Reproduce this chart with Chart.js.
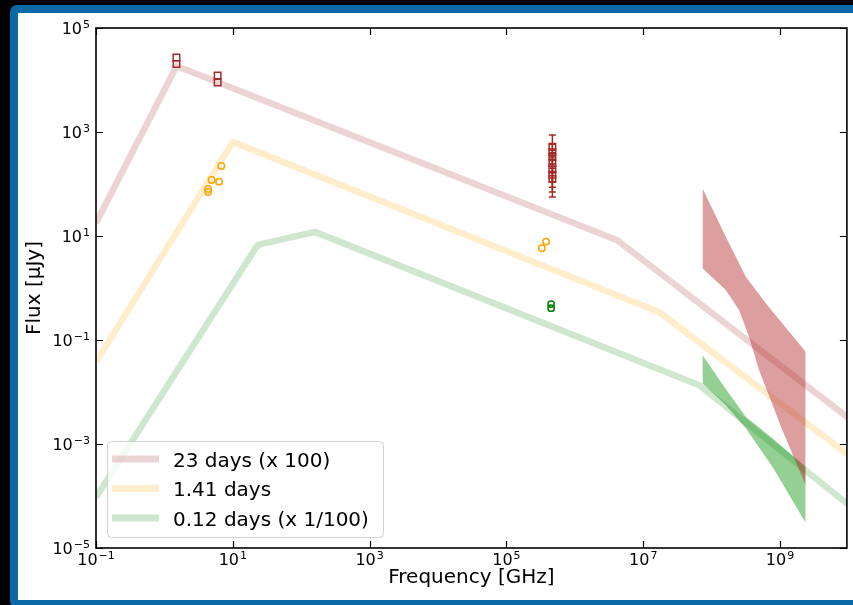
<!DOCTYPE html>
<html>
<head>
<meta charset="utf-8">
<script src="https://cdn.jsdelivr.net/npm/chart.js@4.4.1/dist/chart.umd.min.js"></script>
<style>
  html, body { margin: 0; padding: 0; background: #000; }
  body { width: 853px; height: 605px; overflow: hidden; position: relative; }
  .frame {
    position: absolute; left: 10px; top: 5px;
    width: 900px; height: 587px;
    border: 8px solid #0a69a6; border-radius: 7px;
    background: #fff;
  }
  #wrap { position: absolute; left: 0; top: 0; width: 853px; height: 605px; }
</style>
</head>
<body>
<div class="frame"></div>
<div id="wrap"><canvas id="sed" width="853" height="605"></canvas></div>
<script>
'use strict';

const FONT = '"DejaVu Sans", "Liberation Sans", sans-serif';

// 모델 스펙트럼 (구간별 멱법칙 꺾인점) — 주파수 [GHz], 플럭스 [μJy]
const MODEL_23D_NU    = [0.1, 1.51, 4.17e6, 1e10];
const MODEL_23D_FLUX  = [17.8, 18600, 8.3, 3.16e-3];
const MODEL_141D_NU   = [0.1, 10, 1.7e7, 1e10];
const MODEL_141D_FLUX = [0.038, 646, 0.347, 6.2e-4];
const MODEL_012D_NU   = [0.1, 23.2, 158, 6.6e7, 1e10];
const MODEL_012D_FLUX = [9.5e-5, 6.76, 12.0, 0.0135, 6.8e-5];

// 관측값 (23일 x100, 1.41일, 0.12일 x1/100)
const OBS_23D_NU     = [1.5, 1.5, 6.0, 6.0, 4.7e5, 4.7e5, 4.7e5, 4.7e5, 4.7e5, 4.7e5, 4.7e5];
const OBS_23D_FLUX   = [27100, 20300, 12200, 8960, 520, 410, 330, 250, 190, 150, 125];
const OBS_23D_ERR_LO = [null, null, null, null, 330, 290, 240, 109, 87, 70, 56];
const OBS_23D_ERR_HI = [null, null, null, null, 875, 580, 450, 400, 300, 240, 200];
const OBS_141D_NU    = [6.8, 4.9, 6.3, 4.35, 4.35, 3.8e5, 3.3e5];
const OBS_141D_FLUX  = [222, 119, 111, 80, 70, 7.8, 5.8];
const OBS_012D_NU    = [4.5e5, 4.5e5];
const OBS_012D_FLUX  = [0.49, 0.41];

// X선 대역 불확실성 범위 (위/아래 경계)
const BAND_23D_UP_NU   = [7.35e7, 1.61e8, 3.16e8, 6.18e8, 2.37e9];
const BAND_23D_UP      = [82.6, 9.7, 1.65, 0.508, 0.0596];
const BAND_23D_LO_NU   = [7.35e7, 1.61e8, 2.52e8, 3.52e8, 4.93e8, 1.08e9, 2.37e9];
const BAND_23D_LO      = [2.39, 0.916, 0.378, 0.116, 0.0265, 1.86e-3, 1.63e-4];
const BAND_012D_UP_NU  = [7.35e7, 1.6e8, 3.16e8, 8.0e8, 2.37e9];
const BAND_012D_UP     = [0.0515, 0.0115, 3.35e-3, 1.25e-3, 3.66e-4];
const BAND_012D_LO_NU  = [7.35e7, 1.6e8, 3.16e8, 8.0e8, 2.37e9];
const BAND_012D_LO     = [0.0147, 5.6e-3, 2.0e-3, 3.4e-4, 3.07e-5];

// 축 범위와 눈금 (2 decade 간격)
const X_MIN = 0.1, X_MAX = 9.5e9;
const Y_MIN = 1e-5, Y_MAX = 1e5;
const X_TICKS = [1e-1, 1e1, 1e3, 1e5, 1e7, 1e9];
const Y_TICKS = [1e-5, 1e-3, 1e-1, 1e1, 1e3, 1e5];

const TICK_LEN = 7;

const pts = (nu, f) => nu.map((v, i) => ({ x: v, y: f[i] }));

function modelSet(label, nu, flux, color) {
  return {
    label, isModel: true,
    data: pts(nu, flux),
    borderColor: color,
    borderWidth: 6.5,
    borderJoinStyle: 'round',
    pointRadius: 0,
    fill: false,
    order: 3,
  };
}

function bandPair(nuLo, lo, nuUp, up, color) {
  const base = { pointRadius: 0, borderColor: 'rgba(0,0,0,0)', borderWidth: 1, order: 2 };
  return [
    { ...base, data: pts(nuLo, lo), fill: false },
    { ...base, data: pts(nuUp, up), fill: '-1', backgroundColor: color },
  ];
}

function obsSet(nu, flux, color, style, radius, lo, hi) {
  return {
    data: pts(nu, flux),
    showLine: false,
    pointStyle: style,
    pointRadius: radius,
    pointBorderWidth: 1.5,
    pointBorderColor: color,
    pointBackgroundColor: 'rgba(0,0,0,0)',
    errLo: lo, errHi: hi,
    order: 1,
  };
}

const datasets = [
  modelSet('23 days (x 100)', MODEL_23D_NU, MODEL_23D_FLUX, 'rgba(165,42,42,0.2)'),
  modelSet('1.41 days', MODEL_141D_NU, MODEL_141D_FLUX, 'rgba(255,165,0,0.2)'),
  modelSet('0.12 days (x 1/100)', MODEL_012D_NU, MODEL_012D_FLUX, 'rgba(0,128,0,0.19)'),
  ...bandPair(BAND_23D_LO_NU, BAND_23D_LO, BAND_23D_UP_NU, BAND_23D_UP, 'rgba(178,40,40,0.45)'),
  ...bandPair(BAND_012D_LO_NU, BAND_012D_LO, BAND_012D_UP_NU, BAND_012D_UP, 'rgba(0,140,0,0.42)'),
  obsSet(OBS_23D_NU, OBS_23D_FLUX, '#a52a2a', 'rect', 4.6, OBS_23D_ERR_LO, OBS_23D_ERR_HI),
  obsSet(OBS_141D_NU, OBS_141D_FLUX, '#ffa500', 'circle', 3.2),
  obsSet(OBS_012D_NU, OBS_012D_FLUX, '#008000', 'circle', 3.2),
];

// 오차 막대 (캡 포함)
const errorBars = {
  id: 'errorBars',
  afterDatasetsDraw(chart) {
    const { ctx, scales: { x, y } } = chart;
    ctx.save();
    chart.data.datasets.forEach(ds => {
      if (!ds.errLo) return;
      ctx.strokeStyle = ds.pointBorderColor;
      ctx.lineWidth = 1.5;
      ds.data.forEach((p, i) => {
        if (ds.errLo[i] == null) return;
        const px = x.getPixelForValue(p.x);
        const y0 = y.getPixelForValue(ds.errLo[i]);
        const y1 = y.getPixelForValue(ds.errHi[i]);
        ctx.beginPath();
        ctx.moveTo(px, y0); ctx.lineTo(px, y1);
        ctx.moveTo(px - 3.5, y0); ctx.lineTo(px + 3.5, y0);
        ctx.moveTo(px - 3.5, y1); ctx.lineTo(px + 3.5, y1);
        ctx.stroke();
      });
    });
    ctx.restore();
  },
};

// 범례 박스 — 모델 선만 표시
const legendBox = {
  id: 'legendBox',
  afterDatasetsDraw(chart) {
    const { ctx, chartArea: { left, bottom } } = chart;
    const items = chart.data.datasets.filter(d => d.isModel);
    const bx = left + 11, by = bottom - 107, bw = 276, bh = 96;
    ctx.save();
    ctx.beginPath();
    ctx.roundRect(bx + 0.5, by + 0.5, bw, bh, 4);
    ctx.fillStyle = 'rgba(255,255,255,0.8)';
    ctx.fill();
    ctx.strokeStyle = '#d0d0d0';
    ctx.lineWidth = 1;
    ctx.stroke();
    ctx.font = '20px ' + FONT;
    ctx.textAlign = 'left';
    ctx.textBaseline = 'alphabetic';
    items.forEach((d, i) => {
      const cy = by + 18 + i * 29.5;
      ctx.strokeStyle = d.borderColor;
      ctx.lineWidth = 7;
      ctx.beginPath();
      ctx.moveTo(bx + 5, cy); ctx.lineTo(bx + 52, cy);
      ctx.stroke();
      ctx.fillStyle = '#000';
      ctx.fillText(d.label, bx + 66, cy + 7.5);
    });
    ctx.restore();
  },
};

function drawPow(ctx, exp, x, base, align) {
  const expText = exp < 0 ? '\u2212' + (-exp) : String(exp);
  ctx.font = '16px ' + FONT;
  const w1 = ctx.measureText('10').width;
  ctx.font = '11px ' + FONT;
  const w2 = ctx.measureText(expText).width;
  const total = w1 + 1 + w2;
  const x0 = align === 'right' ? x - total : x - total / 2;
  ctx.font = '16px ' + FONT;
  ctx.fillText('10', x0, base);
  ctx.font = '11px ' + FONT;
  ctx.fillText(expText, x0 + w1 + 1, base - 6);
}

// 축 테두리, 안쪽 눈금, 10^n 눈금 라벨
const axesFrame = {
  id: 'axesFrame',
  afterDraw(chart) {
    const { ctx, chartArea: { left, top, right, bottom }, scales: { x, y } } = chart;
    ctx.save();
    ctx.strokeStyle = '#000';
    ctx.lineWidth = 1.2;
    ctx.beginPath();
    x.ticks.forEach(t => {
      const px = Math.round(x.getPixelForValue(t.value)) + 0.5;
      ctx.moveTo(px, bottom); ctx.lineTo(px, bottom - TICK_LEN);
      ctx.moveTo(px, top); ctx.lineTo(px, top + TICK_LEN);
    });
    y.ticks.forEach(t => {
      const py = Math.round(y.getPixelForValue(t.value)) + 0.5;
      ctx.moveTo(left, py); ctx.lineTo(left + TICK_LEN, py);
      ctx.moveTo(right, py); ctx.lineTo(right - TICK_LEN, py);
    });
    ctx.stroke();
    ctx.lineWidth = 1.6;
    ctx.strokeRect(left, top, right - left, bottom - top);

    ctx.fillStyle = '#000';
    ctx.textAlign = 'left';
    ctx.textBaseline = 'alphabetic';
    x.ticks.forEach(t => {
      const e = Math.round(Math.log10(t.value));
      drawPow(ctx, e, x.getPixelForValue(t.value), bottom + 17, 'center');
    });
    y.ticks.forEach(t => {
      const e = Math.round(Math.log10(t.value));
      drawPow(ctx, e, left - 6, y.getPixelForValue(t.value) + 6, 'right');
    });
    ctx.restore();
  },
};

const axisTitle = (text, padding) => ({
  display: true, text, color: '#000',
  font: { family: FONT, size: 20, weight: 'normal' },
  padding,
});

new Chart(document.getElementById('sed'), {
  type: 'line',
  data: { datasets },
  plugins: [errorBars, legendBox, axesFrame],
  options: {
    responsive: false,
    animation: false,
    events: [],
    layout: { padding: { left: 0, top: 28, right: 5, bottom: 0 } },
    elements: { line: { tension: 0 } },
    scales: {
      x: {
        type: 'logarithmic', min: X_MIN, max: X_MAX,
        grid: { display: false }, border: { display: false },
        ticks: { display: false },
        afterBuildTicks(s) { s.ticks = X_TICKS.map(v => ({ value: v })); },
        afterFit(s) { s.height = 57; },
        title: axisTitle('Frequency [GHz]', { top: 0, bottom: 15 }),
      },
      y: {
        type: 'logarithmic', min: Y_MIN, max: Y_MAX,
        grid: { display: false }, border: { display: false },
        ticks: { display: false },
        afterBuildTicks(s) { s.ticks = Y_TICKS.map(v => ({ value: v })); },
        afterFit(s) { s.width = 96; },
        title: axisTitle('Flux [\u03bcJy]', { top: 23, bottom: 0 }),
      },
    },
    plugins: {
      legend: { display: false },
      tooltip: { enabled: false },
    },
  },
});
</script>
</body>
</html>
